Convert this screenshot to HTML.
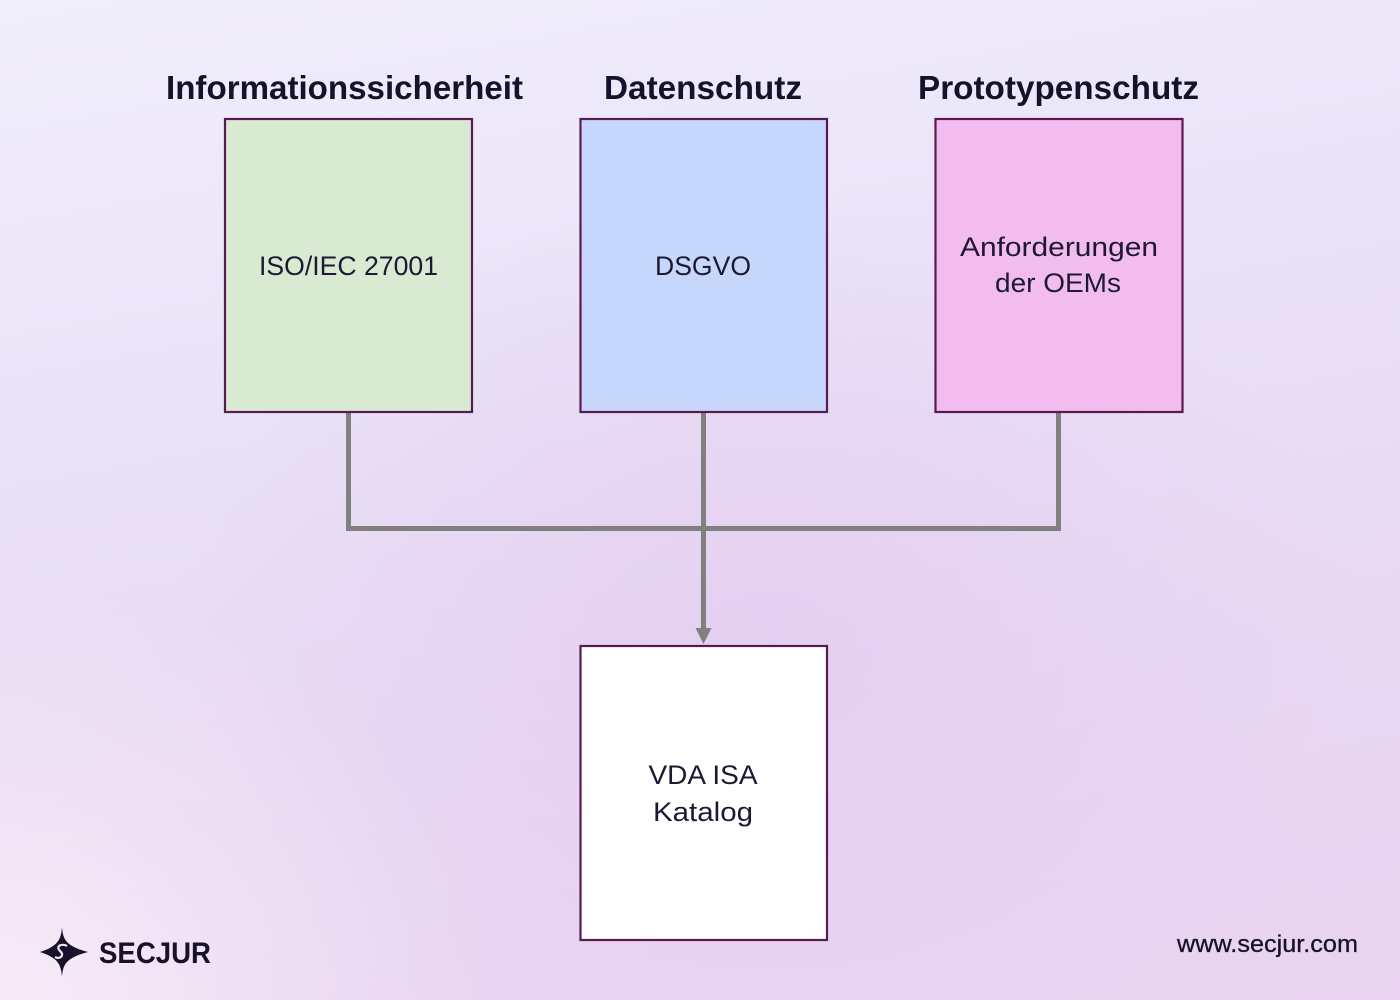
<!DOCTYPE html>
<html>
<head>
<meta charset="utf-8">
<style>
  html,body{margin:0;padding:0;}
  body{width:1400px;height:1000px;overflow:hidden;position:relative;
    background:
      radial-gradient(ellipse 700px 600px at 0% 100%, rgba(248,236,248,0.95), rgba(248,236,248,0) 70%),
      radial-gradient(ellipse 800px 600px at 55% 65%, rgba(228,206,240,0.9), rgba(228,206,240,0) 75%),
      linear-gradient(170deg, #f1eefb 0%, #e9e3f8 35%, #e8d8f2 70%, #e9d3f0 100%);
    font-family:"Liberation Sans", sans-serif;}
  svg{position:absolute;left:0;top:0;}
</style>
</head>
<body>
<svg width="1400" height="1000" viewBox="0 0 1400 1000" xmlns="http://www.w3.org/2000/svg">
  <!-- titles -->
  <g font-family="Liberation Sans, sans-serif" font-weight="bold" font-size="33" fill="#16122b" text-anchor="middle">
    <text x="344.5" y="99" textLength="357" lengthAdjust="spacingAndGlyphs">Informationssicherheit</text>
    <text x="703" y="99" textLength="198" lengthAdjust="spacingAndGlyphs">Datenschutz</text>
    <text x="1058.5" y="99" textLength="281" lengthAdjust="spacingAndGlyphs">Prototypenschutz</text>
  </g>

  <!-- connectors -->
  <g stroke="#808080" stroke-width="5" fill="none">
    <polyline points="348.5,413 348.5,528.5 1058.5,528.5 1058.5,413"/>
    <line x1="703.5" y1="413" x2="703.5" y2="630"/>
  </g>
  <polygon points="695.5,628 711.5,628 703.5,644" fill="#808080"/>

  <!-- boxes -->
  <g stroke="#5a1a50" stroke-width="2.2">
    <rect x="225" y="119" width="247" height="293" fill="#d9ead3"/>
    <rect x="580.5" y="119" width="246.5" height="293" fill="#c6d7fb"/>
    <rect x="935.5" y="119" width="247" height="293" fill="#f2bdee"/>
    <rect x="580.5" y="646" width="246.5" height="294" fill="#ffffff"/>
  </g>

  <!-- box labels -->
  <g font-family="Liberation Sans, sans-serif" font-size="27" fill="#1d1932" text-anchor="middle">
    <text x="348.5" y="275" textLength="179" lengthAdjust="spacingAndGlyphs">ISO/IEC 27001</text>
    <text x="703" y="275" textLength="96" lengthAdjust="spacingAndGlyphs">DSGVO</text>
    <text x="1059" y="256" textLength="198" lengthAdjust="spacingAndGlyphs">Anforderungen</text>
    <text x="1058" y="292" textLength="126" lengthAdjust="spacingAndGlyphs">der OEMs</text>
    <text x="703" y="784" textLength="109" lengthAdjust="spacingAndGlyphs">VDA ISA</text>
    <text x="703" y="821" textLength="100" lengthAdjust="spacingAndGlyphs">Katalog</text>
  </g>

  <!-- logo -->
  <g fill="#17112a">
    <path d="M62,927 C63,940 66,946 88,952 C66,958 63,964 62,977 C61,964 58,958 40,952 C58,946 61,940 62,927 Z"/>
  </g>
  <path d="M67,946 C62,943 55,946 60,951 C65,955 60,960 55,957" stroke="#f0e6f6" stroke-width="2.2" fill="none"/>
  <text x="99" y="963" font-family="Liberation Sans, sans-serif" font-weight="bold" font-size="30" fill="#17112a" textLength="112" lengthAdjust="spacingAndGlyphs">SECJUR</text>

  <!-- url -->
  <text x="1177" y="952" font-family="Liberation Sans, sans-serif" font-size="24" fill="#17112a" stroke="#17112a" stroke-width="0.3" textLength="181" lengthAdjust="spacingAndGlyphs">www.secjur.com</text>
</svg>
</body>
</html>
